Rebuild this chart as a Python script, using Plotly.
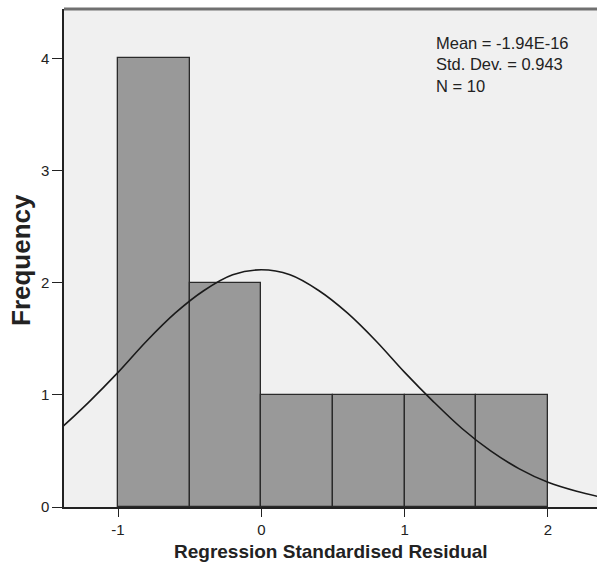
import plotly.graph_objects as go

# Histogram bins (left edges) and counts
bin_left = [-1.0, -0.5, 0.0, 0.5, 1.0, 1.5]
bin_width = 0.5
counts = [4, 2, 1, 1, 1, 1]

# Normal curve points
curve_x = [-1.4, -1.2, -1.0, -0.8, -0.6, -0.4, -0.2, 0.0, 0.2, 0.4, 0.6, 0.8,
           1.0, 1.2, 1.4, 1.6, 1.8, 2.0, 2.2, 2.4]
curve_y = [0.70, 0.94, 1.20, 1.48, 1.73, 1.93, 2.07, 2.115, 2.07, 1.93, 1.73, 1.48,
           1.20, 0.94, 0.70, 0.50, 0.34, 0.22, 0.14, 0.08]

x_ticks = [-1, 0, 1, 2]
y_ticks = [0, 1, 2, 3, 4]
stats_text = ["Mean = -1.94E-16", "Std. Dev. = 0.943", "N = 10"]
x_title = "Regression Standardised Residual"
y_title = "Frequency"

FONT = "Liberation Sans, Arial, sans-serif"
W, H = 597, 564
L, R, T, B = 64, 0, 9, 57
PH = H - T - B
PW = W - L - R


def py(ypix):
    return (H - B - ypix) / PH


def px(xpix):
    return (xpix - L) / PW


fig = go.Figure()
fig.add_trace(go.Bar(
    x=[b + bin_width / 2 for b in bin_left], y=counts, width=bin_width,
    marker=dict(color="#999999", line=dict(color="#2a2a2a", width=1.3)),
    hoverinfo="skip"))
fig.add_trace(go.Scatter(
    x=curve_x, y=curve_y, mode="lines",
    line=dict(color="#1a1a1a", width=1.6, shape="spline"), hoverinfo="skip"))

fig.add_shape(type="line", xref="paper", yref="paper", x0=0, x1=1, y0=1, y1=1,
              line=dict(color="#707070", width=3))

fig.add_annotation(xref="paper", yref="paper", x=px(434), y=py(65),
                   xanchor="left", yanchor="middle", align="left", showarrow=False,
                   text="<br>".join(stats_text),
                   font=dict(family=FONT, size=16.5, color="#222"))

fig.add_annotation(xref="paper", yref="paper", x=px(331), y=py(551),
                   xanchor="center", yanchor="middle", showarrow=False,
                   text="<b>%s</b>" % x_title, font=dict(family=FONT, size=19, color="#222"))
fig.add_annotation(xref="paper", yref="paper", x=px(21), y=py(260), textangle=-90,
                   xanchor="center", yanchor="middle", showarrow=False,
                   text="<b>%s</b>" % y_title, font=dict(family=FONT, size=26, color="#222"))

fig.update_layout(
    width=W, height=H,
    margin=dict(l=L, r=R, t=T, b=B),
    paper_bgcolor="white", plot_bgcolor="#f0f0f0",
    showlegend=False, bargap=0,
    font=dict(family=FONT, color="#222"),
    xaxis=dict(range=[-1.377, 2.342], tickvals=x_ticks, ticktext=[str(v) for v in x_ticks],
               ticks="outside", ticklen=8, tickwidth=1.3, tickcolor="#222",
               showline=True, linecolor="#222", linewidth=1.5, showgrid=False, zeroline=False,
               tickfont=dict(size=15, family=FONT, color="#222")),
    yaxis=dict(range=[0, 4.44], tickvals=y_ticks, ticktext=[str(v) for v in y_ticks],
               ticks="outside", ticklen=10, tickwidth=1.3, tickcolor="#222",
               showline=True, linecolor="#222", linewidth=1.5, showgrid=False, zeroline=False,
               tickfont=dict(size=15, family=FONT, color="#222")),
)

fig.write_html("out.html")
